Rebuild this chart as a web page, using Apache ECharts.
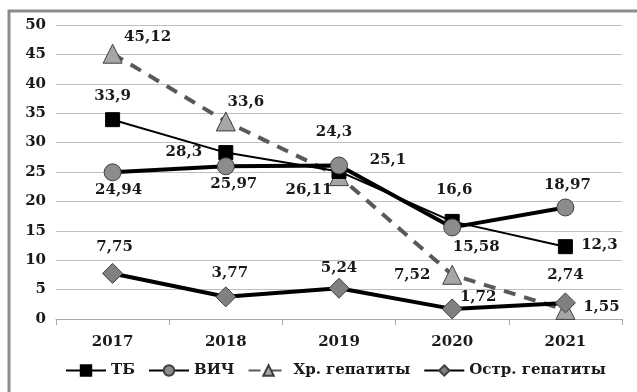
<!DOCTYPE html>
<html>
<head>
<meta charset="utf-8">
<script src="https://cdn.jsdelivr.net/npm/echarts@6/dist/echarts.min.js"></script>
<style>
  html, body { margin: 0; padding: 0; background: #fff; }
  #chart { width: 637px; height: 392px; }
</style>
</head>
<body>
<div id="chart"></div>
<script>
// Years on the category axis
const years = ['2017', '2018', '2019', '2020', '2021'];

// Incidence values per series
const tb = [33.9, 28.3, 25.1, 16.6, 12.3];
const hiv = [24.94, 25.97, 26.11, 15.58, 18.97];
const chronicHep = [45.12, 33.6, 24.3, 7.52, 1.55];
const acuteHep = [7.75, 3.77, 5.24, 1.72, 2.74];

// Value axis ticks
const yTicks = [0, 5, 10, 15, 20, 25, 30, 35, 40, 45, 50];

// Label placement (pixel offsets from each point's centre)
const tbOffsets = [[0, -24], [-42, 0], [49, -11], [2, -31], [34, -2]];
const hivOffsets = [[6, 18], [8, 18], [-30, 25], [24, 20], [2, -22]];
const chronicOffsets = [[35, -17], [20, -19], [-5, -44], [-40, 0], [36, -3]];
const acuteOffsets = [[2, -26], [4, -24], [0, -20], [26, -12], [0, -28]];

const FONT = 'DejaVu Serif';
const FS = 15;

function fmt(v) {
  return String(v).replace('.', ',');
}

function withLabels(values, offsets) {
  return values.map((v, i) => ({
    value: v,
    label: { offset: offsets[i] }
  }));
}

const labelBase = {
  show: true,
  position: 'inside',
  fontFamily: FONT,
  fontWeight: 'bold',
  fontSize: FS,
  color: '#1a1a1a',
  formatter: p => fmt(p.value)
};

const chart = echarts.init(document.getElementById('chart'), null, { renderer: 'canvas' });

chart.setOption({
  animation: false,
  backgroundColor: '#fff',
  textStyle: { fontFamily: FONT },
  graphic: [{
    type: 'rect',
    shape: { x: 9, y: 11, width: 640, height: 400 },
    style: { fill: 'none', stroke: '#8c8c8c', lineWidth: 3 },
    silent: true,
    z: -1
  }],
  grid: { left: 56, right: 15, top: 25, bottom: 73, containLabel: false },
  legend: {
    bottom: 9,
    left: 60,
    itemWidth: 40,
    itemHeight: 13,
    itemGap: 13,
    textStyle: { fontFamily: FONT, fontWeight: 'bold', fontSize: FS, color: '#1a1a1a' },
    data: ['ТБ', 'ВИЧ', 'Хр. гепатиты', 'Остр. гепатиты']
  },
  xAxis: {
    type: 'category',
    data: years,
    boundaryGap: true,
    axisLine: { lineStyle: { color: '#a6a6a6', width: 1 } },
    axisTick: { show: true, alignWithLabel: false, length: 6, lineStyle: { color: '#a6a6a6' } },
    axisLabel: { fontFamily: FONT, fontWeight: 'bold', fontSize: FS, color: '#1a1a1a', margin: 16 }
  },
  yAxis: {
    type: 'value',
    min: yTicks[0],
    max: yTicks[yTicks.length - 1],
    interval: yTicks[1] - yTicks[0],
    axisLine: { show: false },
    axisTick: { show: false },
    splitLine: { lineStyle: { color: '#bfbfbf', width: 1 } },
    axisLabel: { fontFamily: FONT, fontWeight: 'bold', fontSize: FS, color: '#1a1a1a', margin: 10 }
  },
  series: [
    {
      name: 'ТБ',
      type: 'line',
      data: withLabels(tb, tbOffsets),
      symbol: 'rect',
      symbolSize: 14,
      itemStyle: { color: '#000', borderColor: '#000', borderWidth: 1 },
      lineStyle: { color: '#000', width: 2 },
      label: labelBase,
      z: 4
    },
    {
      name: 'ВИЧ',
      type: 'line',
      data: withLabels(hiv, hivOffsets),
      symbol: 'circle',
      symbolSize: 17,
      itemStyle: { color: '#8c8c8c', borderColor: '#404040', borderWidth: 1 },
      lineStyle: { color: '#000', width: 4 },
      label: labelBase,
      z: 5
    },
    {
      name: 'Хр. гепатиты',
      type: 'line',
      data: withLabels(chronicHep, chronicOffsets),
      symbol: 'triangle',
      symbolSize: 19,
      itemStyle: { color: '#a6a6a6', borderColor: '#404040', borderWidth: 1 },
      lineStyle: { color: '#595959', width: 4, type: [12, 9] },
      label: labelBase,
      z: 3
    },
    {
      name: 'Остр. гепатиты',
      type: 'line',
      data: withLabels(acuteHep, acuteOffsets),
      symbol: 'diamond',
      symbolSize: 20,
      itemStyle: { color: '#808080', borderColor: '#404040', borderWidth: 1 },
      lineStyle: { color: '#000', width: 4 },
      label: labelBase,
      z: 6
    }
  ]
});
</script>
</body>
</html>
